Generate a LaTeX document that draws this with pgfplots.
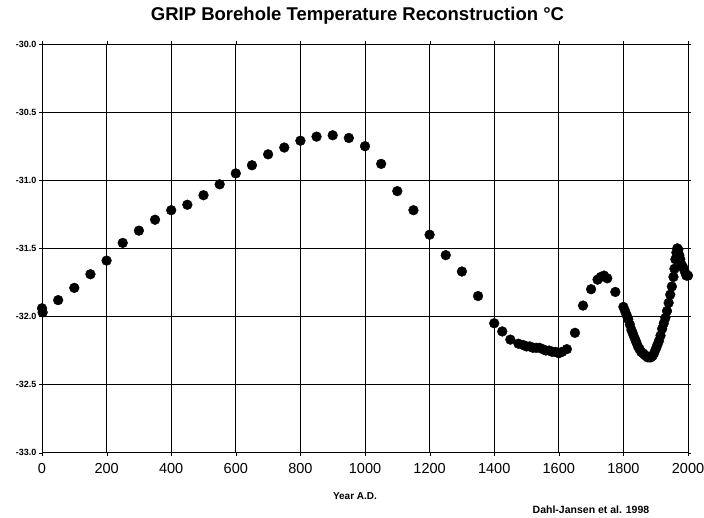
\documentclass[border=0pt]{standalone}
\usepackage{fontspec}
\setmainfont{Liberation Sans}
\usepackage{pgfplots}
\pgfplotsset{compat=1.18}
\begin{document}
\begin{tikzpicture}
\path[use as bounding box] (0,0) rectangle (704pt,518pt);
\begin{axis}[
  at={(42pt,65.3pt)}, anchor=south west,
  scale only axis, width=646pt, height=408.7pt,
  xmin=0, xmax=2000, ymin=-33, ymax=-30,
  xtick={0,200,...,2000}, ytick={-33,-32.5,...,-30},
  grid=major, major grid style={black, line width=0.8pt},
  axis line style={black, line width=0.8pt},
  tick style={black}, major tick length=3pt,
  tick align=outside,
  /pgf/number format/assume math mode=true,
  xticklabel style={font=\fontsize{14.5}{16}\selectfont, yshift=-4pt},
  yticklabel style={font=\fontsize{9}{10}\selectfont\bfseries, xshift=1pt},
  yticklabel={\pgfmathprintnumber[fixed,fixed zerofill,precision=1]{\tick}},
  xticklabel={\pgfmathprintnumber[1000 sep={}]{\tick}},
  clip=false,
]
\addplot[only marks, mark=*, mark size=4.9pt, black] coordinates {
(0,-31.94) (2,-31.97) (50,-31.88) (100,-31.79) (150,-31.69) (200,-31.59) (250,-31.46)
(300,-31.37) (350,-31.29) (400,-31.22) (450,-31.18) (500,-31.11) (550,-31.03)
(600,-30.95) (650,-30.89) (700,-30.81) (750,-30.76) (800,-30.71) (850,-30.68)
(900,-30.67) (950,-30.69) (1000,-30.75) (1050,-30.88) (1100,-31.08) (1150,-31.22)
(1200,-31.40) (1250,-31.55) (1300,-31.67) (1350,-31.85) (1400,-32.05) (1425,-32.11)
(1450,-32.17) (1475,-32.20) (1490,-32.21) (1500,-32.22) (1510,-32.22) (1520,-32.23)
(1530,-32.23) (1540,-32.23) (1550,-32.24) (1560,-32.25) (1570,-32.25) (1580,-32.26)
(1590,-32.26) (1600,-32.27) (1610,-32.26) (1625,-32.24) (1650,-32.12) (1675,-31.92)
(1700,-31.80) (1720,-31.73) (1730,-31.71) (1740,-31.70) (1750,-31.72) (1775,-31.82)
(1800,-31.93) (1805,-31.96) (1810,-31.99) (1815,-32.02) (1820,-32.06) (1825,-32.10)
(1830,-32.13) (1835,-32.16) (1840,-32.19) (1845,-32.22) (1850,-32.24) (1855,-32.26)
(1860,-32.27) (1865,-32.28) (1870,-32.29) (1875,-32.30) (1880,-32.30) (1885,-32.30)
(1890,-32.29) (1895,-32.27) (1900,-32.24) (1905,-32.21) (1910,-32.18) (1915,-32.14)
(1920,-32.09) (1925,-32.05) (1930,-32.01) (1935,-31.96) (1940,-31.90) (1945,-31.84)
(1950,-31.78) (1955,-31.71) (1958,-31.65) (1961,-31.58) (1964,-31.53) (1967,-31.50)
(1970,-31.51) (1973,-31.55) (1976,-31.58) (1980,-31.62) (1985,-31.64) (1990,-31.67)
(1995,-31.70) (2000,-31.70)
};
\end{axis}
\node[font=\fontsize{18.5}{21}\selectfont\bfseries] at (357.5pt,502pt) {GRIP Borehole Temperature Reconstruction °C};
\node[font=\fontsize{10}{11}\selectfont\bfseries] at (355pt,22pt) {Year A.D.};
\node[font=\fontsize{10.5}{12}\selectfont\bfseries] at (591pt,8pt) {Dahl-Jansen et al. 1998};
\end{tikzpicture}
\end{document}
